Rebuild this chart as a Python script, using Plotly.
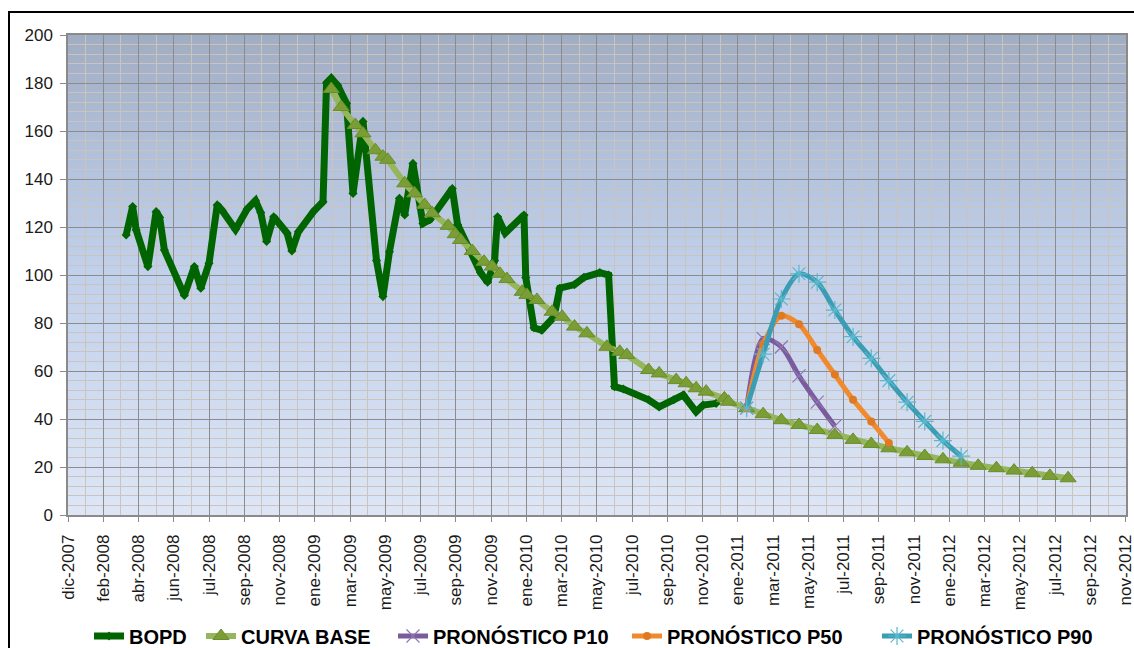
import datetime as dt
import plotly.graph_objects as go

# ---------------- data ----------------
TICK_LABELS = ["dic-2007", "feb-2008", "abr-2008", "jun-2008", "jul-2008", "sep-2008",
               "nov-2008", "ene-2009", "mar-2009", "may-2009", "jul-2009", "sep-2009",
               "nov-2009", "ene-2010", "mar-2010", "may-2010", "jul-2010", "sep-2010",
               "nov-2010", "ene-2011", "mar-2011", "may-2011", "jul-2011", "sep-2011",
               "nov-2011", "ene-2012", "mar-2012", "may-2012", "jul-2012", "sep-2012",
               "nov-2012"]
AXIS_START = "2007-12-04"
TICK_STEP_DAYS = 60

BOPD_DATES = ["2008-03-12", "2008-03-23", "2008-03-29", "2008-04-18", "2008-05-02", "2008-05-08",
              "2008-05-16", "2008-06-19", "2008-07-06", "2008-07-17", "2008-07-31", "2008-08-14",
              "2008-08-22", "2008-09-14", "2008-10-04", "2008-10-18", "2008-10-27", "2008-11-06",
              "2008-11-18", "2008-11-25", "2008-12-11", "2008-12-19", "2008-12-30", "2009-01-25",
              "2009-02-10", "2009-02-16", "2009-02-24", "2009-03-07", "2009-03-22", "2009-04-02",
              "2009-04-19", "2009-05-12", "2009-05-23", "2009-06-03", "2009-06-20", "2009-06-29",
              "2009-07-13", "2009-07-30", "2009-08-11", "2009-09-18", "2009-09-27", "2009-11-05",
              "2009-11-17", "2009-11-29", "2009-12-04", "2009-12-17", "2010-01-18", "2010-01-21",
              "2010-02-04", "2010-02-17", "2010-03-10", "2010-03-20", "2010-04-14", "2010-04-30",
              "2010-05-27", "2010-06-11", "2010-06-21", "2010-07-06", "2010-08-18", "2010-09-05",
              "2010-09-30", "2010-10-16", "2010-11-07", "2010-11-19", "2010-12-11"]
BOPD_VALUES = [116.7, 128.5, 118.8, 103.5, 126.4, 124.0,
               110.4, 91.5, 103.5, 94.5, 104.9, 129.2,
               127.0, 119.0, 127.5, 131.0, 126.0, 114.0,
               124.3, 122.0, 117.4, 110.0, 118.0, 126.5,
               130.5, 180.0, 182.0, 179.0, 171.5, 134.0,
               164.0, 106.0, 91.0, 109.7, 132.0, 125.0,
               146.5, 121.5, 123.0, 136.0, 121.0, 101.0,
               97.0, 106.0, 124.3, 117.5, 125.0, 99.0,
               78.0, 77.0, 82.5, 94.5, 96.0, 99.0,
               101.0, 100.0, 53.5, 52.5, 48.0, 45.0,
               48.0, 50.0, 43.0, 45.8, 46.5]

BASE_DATES = ["2009-02-24", "2009-03-13", "2009-04-06", "2009-04-19", "2009-05-10", "2009-05-23",
              "2009-05-31", "2009-06-29", "2009-07-16", "2009-08-02", "2009-08-15", "2009-09-11",
              "2009-09-23", "2009-10-02", "2009-10-22", "2009-11-11", "2009-11-25", "2009-12-08",
              "2009-12-20", "2010-01-15", "2010-01-23", "2010-02-09", "2010-03-07", "2010-03-24",
              "2010-04-14", "2010-05-05", "2010-06-08", "2010-06-30", "2010-07-12", "2010-08-18",
              "2010-09-05", "2010-10-04", "2010-10-21", "2010-11-07", "2010-11-24", "2010-12-25",
              "2011-01-01", "2011-02-01", "2011-03-01", "2011-04-01", "2011-05-01", "2011-06-01",
              "2011-07-01", "2011-08-01", "2011-09-01", "2011-10-01", "2011-11-01", "2011-12-01",
              "2012-01-01", "2012-02-01", "2012-03-01", "2012-04-01", "2012-05-01", "2012-06-01",
              "2012-07-01", "2012-08-01"]
BASE_VALUES = [177.5, 170.0, 162.5, 159.0, 152.0, 149.3,
               148.0, 138.2, 134.0, 129.2, 125.7, 120.5,
               117.0, 114.6, 110.0, 105.5, 103.5, 100.5,
               98.3, 93.0, 91.7, 89.6, 84.7, 82.6,
               78.5, 75.7, 70.1, 68.0, 66.7, 60.4,
               59.0, 56.2, 54.9, 52.8, 51.4, 48.6,
               47.2, 44.5, 42.0, 39.5, 37.5, 35.4,
               33.3, 31.3, 29.6, 27.8, 26.1, 24.6,
               23.2, 21.8, 20.5, 19.5, 18.5, 17.4,
               16.3, 15.3]

P10_DATES = ["2011-02-01", "2011-03-01", "2011-04-01", "2011-05-01", "2011-06-01", "2011-07-01"]
P10_VALUES = [44.5, 73.5, 70.0, 58.0, 47.0, 37.0]

P50_DATES = ["2011-02-01", "2011-03-01", "2011-04-01", "2011-05-01", "2011-06-01", "2011-07-01",
             "2011-08-01", "2011-09-01", "2011-10-01"]
P50_VALUES = [44.5, 71.0, 83.0, 79.5, 68.8, 58.5, 48.0, 39.0, 30.0]

P90_DATES = ["2011-02-01", "2011-03-01", "2011-04-01", "2011-05-01", "2011-06-01", "2011-07-01",
             "2011-08-01", "2011-09-01", "2011-10-01", "2011-11-01", "2011-12-01", "2012-01-01",
             "2012-02-01"]
P90_VALUES = [44.5, 67.0, 90.0, 100.5, 97.0, 85.4, 74.3, 65.3, 56.0, 47.0, 39.0, 31.0, 24.5]

SERIES_NAMES = ["BOPD", "CURVA BASE", "PRONÓSTICO P10", "PRONÓSTICO P50", "PRONÓSTICO P90"]

# ---------------- layout constants ----------------
W, H = 1134, 648
PL, PR, PT, PB = 68, 1126, 35, 515  # plot area in pixels
pw, ph = PR - PL, PB - PT
LEGEND_BOX_X = [89, 201, 393, 627, 877]  # pixel position of each legend entry box
LEGEND_Y = 636

start = dt.datetime.strptime(AXIS_START, "%Y-%m-%d")
tickvals = [start + dt.timedelta(days=TICK_STEP_DAYS * k) for k in range(len(TICK_LABELS))]
minorvals = [start + dt.timedelta(days=TICK_STEP_DAYS // 2 * k) for k in range(2 * len(TICK_LABELS) - 1)]
x_end = tickvals[-1] + dt.timedelta(hours=12)

legend_ids = ["legend", "legend2", "legend3", "legend4", "legend5"]

fig = go.Figure()

fig.add_trace(go.Scatter(
    x=BOPD_DATES, y=BOPD_VALUES, name=SERIES_NAMES[0], mode="lines+markers",
    line=dict(color="#006400", width=7),
    marker=dict(symbol="diamond", size=7, color="#006400"), legend=legend_ids[0]))
fig.add_trace(go.Scatter(
    x=BASE_DATES, y=BASE_VALUES, name=SERIES_NAMES[1], mode="lines+markers",
    line=dict(color="#95b65c", width=6),
    marker=dict(symbol="triangle-up", size=14, color="#7a9e35",
                line=dict(color="#6a8c2a", width=1)), legend=legend_ids[1]))
fig.add_trace(go.Scatter(
    x=P10_DATES, y=P10_VALUES, name=SERIES_NAMES[2], mode="lines+markers",
    line=dict(color="#7a5c9c", width=5, shape="spline", smoothing=0.8),
    marker=dict(symbol="x-thin-open", size=13, color="#8f76b3", line=dict(width=1.2, color="#8f76b3")),
    legend=legend_ids[2]))
fig.add_trace(go.Scatter(
    x=P50_DATES, y=P50_VALUES, name=SERIES_NAMES[3], mode="lines+markers",
    line=dict(color="#f08a2c", width=5, shape="spline", smoothing=0.8),
    marker=dict(symbol="circle", size=8, color="#e07a22"), legend=legend_ids[3]))
fig.add_trace(go.Scatter(
    x=P90_DATES, y=P90_VALUES, name=SERIES_NAMES[4], mode="lines+markers",
    line=dict(color="#3a9db4", width=5, shape="spline", smoothing=0.8),
    marker=dict(symbol="asterisk-open", size=15, color="#5bb8cc", line=dict(width=1.2, color="#5bb8cc")),
    legend=legend_ids[4]))

# gradient background bands for plot area
stops = [(0.0, (160, 172, 194)), (0.25, (178, 193, 219)), (0.5, (193, 208, 235)), (1.0, (222, 230, 246))]


def col_at(t):
    for (t0, c0), (t1, c1) in zip(stops[:-1], stops[1:]):
        if t0 <= t <= t1:
            f = (t - t0) / (t1 - t0)
            return "rgb(%d,%d,%d)" % tuple(round(a + (b - a) * f) for a, b in zip(c0, c1))
    return "rgb(%d,%d,%d)" % stops[-1][1]


shapes = []
N = 80
for i in range(N):
    t = (i + 0.5) / N
    shapes.append(dict(type="rect", xref="x domain", yref="y domain",
                       x0=0, x1=1, y0=1 - (i + 1) / N - 0.002, y1=1 - i / N,
                       fillcolor=col_at(t), line=dict(width=0), layer="below"))

# chart outer border (extends past the right and bottom edge like the reference crop)
shapes.append(dict(type="rect", xref="paper", yref="paper",
                   x0=(9 - PL) / pw, x1=(W + 20 - PL) / pw,
                   y0=(PB - (H + 20)) / ph, y1=(PB - 12) / ph,
                   line=dict(color="black", width=2), fillcolor="rgba(0,0,0,0)", layer="above"))

legend_font = dict(family="Liberation Sans Narrow, Arial Narrow, Liberation Sans, Arial",
                   size=20, color="#000000", weight="bold")
legend_layouts = {}
for lid, px in zip(legend_ids, LEGEND_BOX_X):
    legend_layouts[lid] = dict(orientation="h", x=(px - PL) / pw, xanchor="left",
                               y=(PB - LEGEND_Y) / ph, yanchor="middle",
                               font=legend_font, bgcolor="rgba(0,0,0,0)")

fig.update_layout(
    width=W, height=H,
    margin=dict(l=PL, r=W - PR, t=PT, b=H - PB, autoexpand=False),
    paper_bgcolor="white", plot_bgcolor="#c6d2ea",
    shapes=shapes,
    font=dict(family="Liberation Sans, Arial, sans-serif", color="#1a1a1a"),
    showlegend=True,
    **legend_layouts,
)

fig.update_xaxes(
    type="date", automargin=False,
    range=[tickvals[0], x_end],
    tickmode="array", tickvals=tickvals, ticktext=TICK_LABELS,
    tickangle=-90, tickfont=dict(size=17, color="#1a1a1a"),
    ticks="outside", ticklen=5, tickcolor="#8a8a8a",
    ticklabelstandoff=6, ticklabeloverflow="allow",
    showgrid=True, gridcolor="#8c8c8c", gridwidth=1.3,
    minor=dict(tickmode="array", tickvals=minorvals, showgrid=True,
               gridcolor="#cbc4bc", gridwidth=1, ticks=""),
    showline=True, linecolor="#8a8a8a", linewidth=1.5, mirror=True,
    zeroline=False,
)
fig.update_yaxes(
    automargin=False,
    range=[0, 200], tickmode="linear", tick0=0, dtick=20,
    tickfont=dict(size=17, color="#1a1a1a"),
    ticks="outside", ticklen=6, tickcolor="#8a8a8a",
    ticklabelstandoff=4,
    showgrid=True, gridcolor="#8c8c8c", gridwidth=1.3,
    minor=dict(dtick=4, showgrid=True, gridcolor="#cbc4bc", gridwidth=1, ticks=""),
    showline=True, linecolor="#8a8a8a", linewidth=1.5, mirror=True,
    zeroline=False,
)

fig.write_html("out.html", config={"displayModeBar": False},
               post_script="document.body.style.margin='0px';")
